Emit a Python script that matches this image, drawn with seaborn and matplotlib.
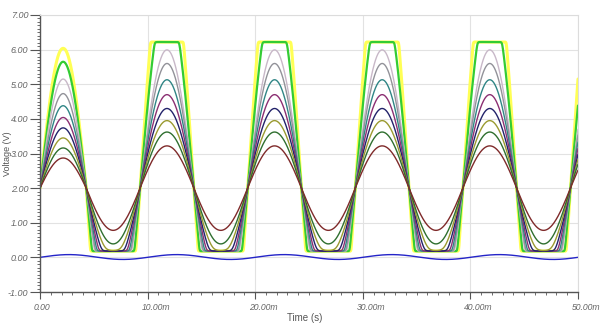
import numpy as np
import pandas as pd
import matplotlib
matplotlib.use("Agg")
import matplotlib.pyplot as plt
import matplotlib.transforms as mtrans
from matplotlib.ticker import MultipleLocator, FixedLocator
import seaborn as sns

# ---- data ----
series = ["yellow", "green", "lightgray", "gray", "teal", "purple",
          "navy", "olive", "darkgreen", "brown", "blue"]
colors = ["#ffff55", "#33cc33", "#c8b8c8", "#929299", "#2f8585", "#8b2f72",
          "#22226a", "#9a9a30", "#2f6f2f", "#7f2a2a", "#2424c8"]
widths = [2.2, 1.6, 1.0, 1.0, 1.0, 1.0, 1.0, 1.0, 1.0, 1.0, 1.0]
offsets = [2.0, 2.0, 2.0, 2.0, 2.0, 2.0, 2.0, 2.0, 2.0, 2.0, 0.01]
first_amp = [4.05, 3.65, 3.15, 2.73, 2.38, 2.04, 1.74, 1.45, 1.16, 0.87, 0.07]
steady_amp = [7.4, 5.6, 4.0, 3.6, 3.13, 2.7, 2.3, 1.95, 1.62, 1.22, 0.07]
peak_time = [1.8] * 10 + [2.7]
period_ms = 10.0
rail_low, rail_high = 0.18, 6.22
x_ticks = [0, 10, 20, 30, 40, 50]
x_labels = ["0.00", "10.00m", "20.00m", "30.00m", "40.00m", "50.00m"]
y_ticks = [-1, 0, 1, 2, 3, 4, 5, 6, 7]
y_labels = ["-1.00", "0.00", "1.00", "2.00", "3.00", "4.00", "5.00", "6.00", "7.00"]

t = np.linspace(0, 50, 2501)


def soft_clip(x, lo, hi, w=0.09):
    return x - w * np.logaddexp(0, (x - hi) / w) + w * np.logaddexp(0, (lo - x) / w)


frames = []
for i, name in enumerate(series):
    steady = offsets[i] + steady_amp[i] * np.cos(2 * np.pi * (t - peak_time[i]) / period_ms)
    if name != "blue":
        t_cross = peak_time[i] + period_ms / 4
        first = offsets[i] + first_amp[i] * np.sin(np.pi * t / t_cross)
        v = np.where(t < t_cross, first, steady)
        v = soft_clip(v, rail_low, rail_high)
    else:
        v = steady
    frames.append(pd.DataFrame({"t": t, "v": v, "series": name}))
df = pd.concat(frames, ignore_index=True)

sns.set_style("white")
plt.rcParams["font.family"] = ["Liberation Sans", "DejaVu Sans"]
fig = plt.figure(figsize=(6.0, 3.28), dpi=100)
ax = fig.add_axes([40 / 600, 36 / 328, 538 / 600, 277 / 328])

for i, name in enumerate(series):
    sns.lineplot(data=df[df.series == name], x="t", y="v", color=colors[i],
                 lw=widths[i], ax=ax, legend=False, sort=False, estimator=None)

ax.set_xlim(0, 50)
ax.set_ylim(-1, 7)
ax.xaxis.set_major_locator(FixedLocator(x_ticks))
ax.set_xticklabels(x_labels)
ax.xaxis.set_minor_locator(MultipleLocator(1))
ax.yaxis.set_major_locator(FixedLocator(y_ticks))
ax.set_yticklabels(y_labels)
ax.yaxis.set_minor_locator(MultipleLocator(0.1))

ax.grid(True, which="major", color="#e2e2e2", lw=0.8)
ax.set_axisbelow(True)
for s in ["top", "right"]:
    ax.spines[s].set_color("#dcdcdc")
    ax.spines[s].set_linewidth(0.8)
for s in ["left", "bottom"]:
    ax.spines[s].set_color("#555555")
    ax.spines[s].set_linewidth(1.0)

ax.tick_params(axis="y", which="major", direction="out", length=7, width=0.8,
               color="#555555", labelsize=6.5, labelcolor="#666666", pad=1.5, left=True)
ax.tick_params(axis="y", which="minor", direction="out", length=2, width=0.6,
               color="#555555", left=True)
ax.tick_params(axis="x", which="major", direction="out", length=5, width=0.8,
               color="#555555", labelsize=6.2, labelcolor="#666666", pad=3, bottom=True)
ax.tick_params(axis="x", which="minor", direction="out", length=2.5, width=0.6,
               color="#555555", bottom=True)
for lab in ax.get_xticklabels() + ax.get_yticklabels():
    lab.set_fontstyle("italic")
off = mtrans.ScaledTranslation(-6 / 100, 0, fig.dpi_scale_trans)
for lab in ax.get_xticklabels():
    lab.set_horizontalalignment("left")
    lab.set_transform(lab.get_transform() + off)

ax.set_xlabel("Time (s)", fontsize=7, color="#555555")
ax.set_ylabel("Voltage (V)", fontsize=6.5, color="#555555")
ax.xaxis.set_label_coords(0.4926, -0.076)
ax.yaxis.set_label_coords(-0.060, 0.5)
ax.yaxis.label.set_verticalalignment("center")

fig.savefig("out.png", dpi=100)
